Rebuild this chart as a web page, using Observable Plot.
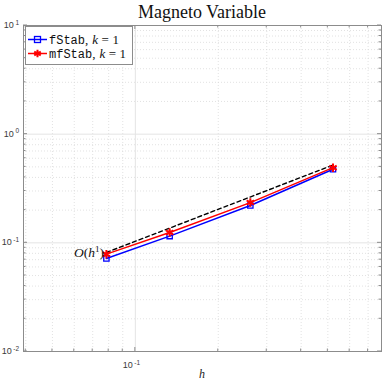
<!DOCTYPE html>
<html><head><meta charset="utf-8">
<script src="https://cdn.jsdelivr.net/npm/d3@7"></script>
<script src="https://cdn.jsdelivr.net/npm/@observablehq/plot@0.6"></script>
<style>
html,body{margin:0;padding:0;background:#fff;}
#chart{position:relative;width:382px;height:382px;}
</style></head><body><div id="chart"></div>
<script>
// ---- data ----
const h = [0.0785, 0.1332, 0.2615, 0.522];
const errFStab = [0.0717, 0.1153, 0.2203, 0.4757];
const errMfStab = [0.0787, 0.1245, 0.2345, 0.492];
const refH = [0.0785, 0.522];
const refErr = [0.0815, 0.52];
const seriesNames = ["fStab", "mfStab"];
const seriesColors = ["#0000ff", "#ff0000"];
const xDomain = [0.03925, 0.783];
const yDomain = [0.01, 10];
const xMajorTicks = [0.1];
const xMinorTicks = [0.04, 0.05, 0.06, 0.07, 0.08, 0.09, 0.2, 0.3, 0.4, 0.5, 0.6, 0.7];
const yMajorTicks = [0.01, 0.1, 1, 10];
const yMinorTicks = [0.02, 0.03, 0.04, 0.05, 0.06, 0.07, 0.08, 0.09,
                     0.2, 0.3, 0.4, 0.5, 0.6, 0.7, 0.8, 0.9,
                     2, 3, 4, 5, 6, 7, 8, 9];
const yTickExponents = ["-2", "-1", "0", "1"];
const xTickExponents = ["-1"];
const titleText = "Magneto Variable";
const xLabelText = "h";

// ---- build ----
const fsData = h.map((v, i) => ({h: v, e: errFStab[i]}));
const mfData = h.map((v, i) => ({h: v, e: errMfStab[i]}));
const refData = refH.map((v, i) => ({h: v, e: refErr[i]}));

const W = 382, H = 382;
const chart = Plot.plot({
  width: W, height: H,
  marginLeft: 23, marginRight: 1, marginTop: 25, marginBottom: 31,
  x: {type: "log", domain: xDomain, axis: null},
  y: {type: "log", domain: yDomain, axis: null},
  style: {background: "#fff", overflow: "visible"},
  marks: [
    Plot.gridX(xMinorTicks, {stroke: "#d6d6d6", strokeOpacity: 1, strokeWidth: 0.7, strokeDasharray: "1,2"}),
    Plot.gridY(yMinorTicks, {stroke: "#d6d6d6", strokeOpacity: 1, strokeWidth: 0.7, strokeDasharray: "1,2"}),
    Plot.gridX(xMajorTicks, {stroke: "#e4e4e4", strokeOpacity: 1, strokeWidth: 1}),
    Plot.gridY(yMajorTicks, {stroke: "#e4e4e4", strokeOpacity: 1, strokeWidth: 1}),
    Plot.frame({stroke: "#8c8c8c", strokeWidth: 1}),
    Plot.line(refData, {x: "h", y: "e", stroke: "black", strokeWidth: 1.4, strokeDasharray: "4,3"}),
    Plot.line(fsData, {x: "h", y: "e", stroke: seriesColors[0], strokeWidth: 1.5}),
    Plot.dot(fsData, {x: "h", y: "e", symbol: "square", r: 3, stroke: seriesColors[0], strokeWidth: 1.3, fill: "none"}),
    Plot.line(mfData, {x: "h", y: "e", stroke: seriesColors[1], strokeWidth: 1.5}),
    Plot.dot(mfData, {x: "h", y: "e", symbol: "asterisk", r: 4, stroke: seriesColors[1], strokeWidth: 2})
  ]
});
document.getElementById("chart").appendChild(chart);

const svg = d3.select(chart);
const xs = chart.scale("x"), ys = chart.scale("y");
const L = 23, R = W - 1, T = 25, B = H - 31;
const tickColor = "#8c8c8c";
const g = svg.append("g");

// inward ticks on all sides
function tick(x1, y1, x2, y2) {
  g.append("line").attr("x1", x1).attr("y1", y1).attr("x2", x2).attr("y2", y2)
    .attr("stroke", tickColor).attr("stroke-width", 1);
}
yMajorTicks.forEach(v => { const y = ys.apply(v); tick(L, y, L + 4, y); tick(R, y, R - 4, y); });
yMinorTicks.forEach(v => { const y = ys.apply(v); tick(L, y, L + 2.5, y); tick(R, y, R - 2.5, y); });
xMajorTicks.forEach(v => { const x = xs.apply(v); tick(x, B, x, B - 4); tick(x, T, x, T + 4); });
xMinorTicks.forEach(v => { const x = xs.apply(v); tick(x, B, x, B - 2.5); tick(x, T, x, T + 2.5); });

// tick labels
const labelFont = "'Liberation Sans', Arial, sans-serif";
yMajorTicks.forEach((v, i) => {
  const t = g.append("text").attr("x", 19).attr("y", ys.apply(v) + 3)
    .attr("text-anchor", "end").attr("font-family", labelFont).attr("font-size", 9).attr("fill", "#3a3a3a");
  t.append("tspan").text("10");
  t.append("tspan").attr("dx", 1.5).attr("dy", -3.5).attr("font-size", 6.5).text(yTickExponents[i]);
});
xMajorTicks.forEach((v, i) => {
  const t = g.append("text").attr("x", xs.apply(v) - 12).attr("y", 368)
    .attr("text-anchor", "start").attr("font-family", labelFont).attr("font-size", 9).attr("fill", "#3a3a3a");
  t.append("tspan").text("10");
  t.append("tspan").attr("dx", 1.5).attr("dy", -3.5).attr("font-size", 6.5).text(xTickExponents[i]);
});

const serif = "'Liberation Serif', 'Times New Roman', serif";
// title
g.append("text").attr("x", (L + R) / 2).attr("y", 18).attr("text-anchor", "middle")
  .attr("font-family", serif).attr("font-size", 18).attr("fill", "#111").text(titleText);
// x label
g.append("text").attr("x", (L + R) / 2).attr("y", 378).attr("text-anchor", "middle")
  .attr("font-family", serif).attr("font-style", "italic").attr("font-size", 12).attr("fill", "#222").text(xLabelText);

// O(h^1) label
{
  const t = g.append("text").attr("x", xs.apply(refH[0]) - 2).attr("y", ys.apply(refErr[0]) + 5)
    .attr("text-anchor", "end").attr("font-family", serif).attr("font-size", 13.5).attr("fill", "#111");
  t.append("tspan").attr("font-style", "italic").text("O");
  t.append("tspan").text("(");
  t.append("tspan").attr("font-style", "italic").text("h");
  t.append("tspan").attr("dy", -5).attr("font-size", 9).text("1");
  t.append("tspan").attr("dy", 5).text(")");
}

// legend
const lg = svg.append("g");
lg.append("rect").attr("x", 25.5).attr("y", 26.5).attr("width", 107).attr("height", 38)
  .attr("fill", "#fff").attr("stroke", "#8c8c8c").attr("stroke-width", 1);
seriesNames.forEach((name, i) => {
  const y = 39.5 + i * 14;
  lg.append("line").attr("x1", 28).attr("x2", 47).attr("y1", y).attr("y2", y)
    .attr("stroke", seriesColors[i]).attr("stroke-width", 1.5);
  if (i === 0) {
    lg.append("rect").attr("x", 34.5).attr("y", y - 3).attr("width", 6).attr("height", 6)
      .attr("fill", "none").attr("stroke", seriesColors[i]).attr("stroke-width", 1.3);
  } else {
    lg.append("path").attr("d", d3.symbol(d3.symbolAsterisk, 40)()).attr("transform", `translate(37.5,${y})`)
      .attr("fill", "none").attr("stroke", seriesColors[i]).attr("stroke-width", 2);
  }
  const t = lg.append("text").attr("x", 49).attr("y", y + 4).attr("text-anchor", "start")
    .attr("font-size", 13).attr("fill", "#111").attr("font-family", serif);
  t.append("tspan").attr("font-family", "'Liberation Mono', 'DejaVu Sans Mono', monospace").attr("font-size", 12).text(name);
  t.append("tspan").text(",");
  t.append("tspan").attr("dx", 4).attr("font-style", "italic").text("k");
  t.append("tspan").attr("dx", 3.5).text("=");
  t.append("tspan").attr("dx", 3.5).text("1");
});
</script>
</body></html>
